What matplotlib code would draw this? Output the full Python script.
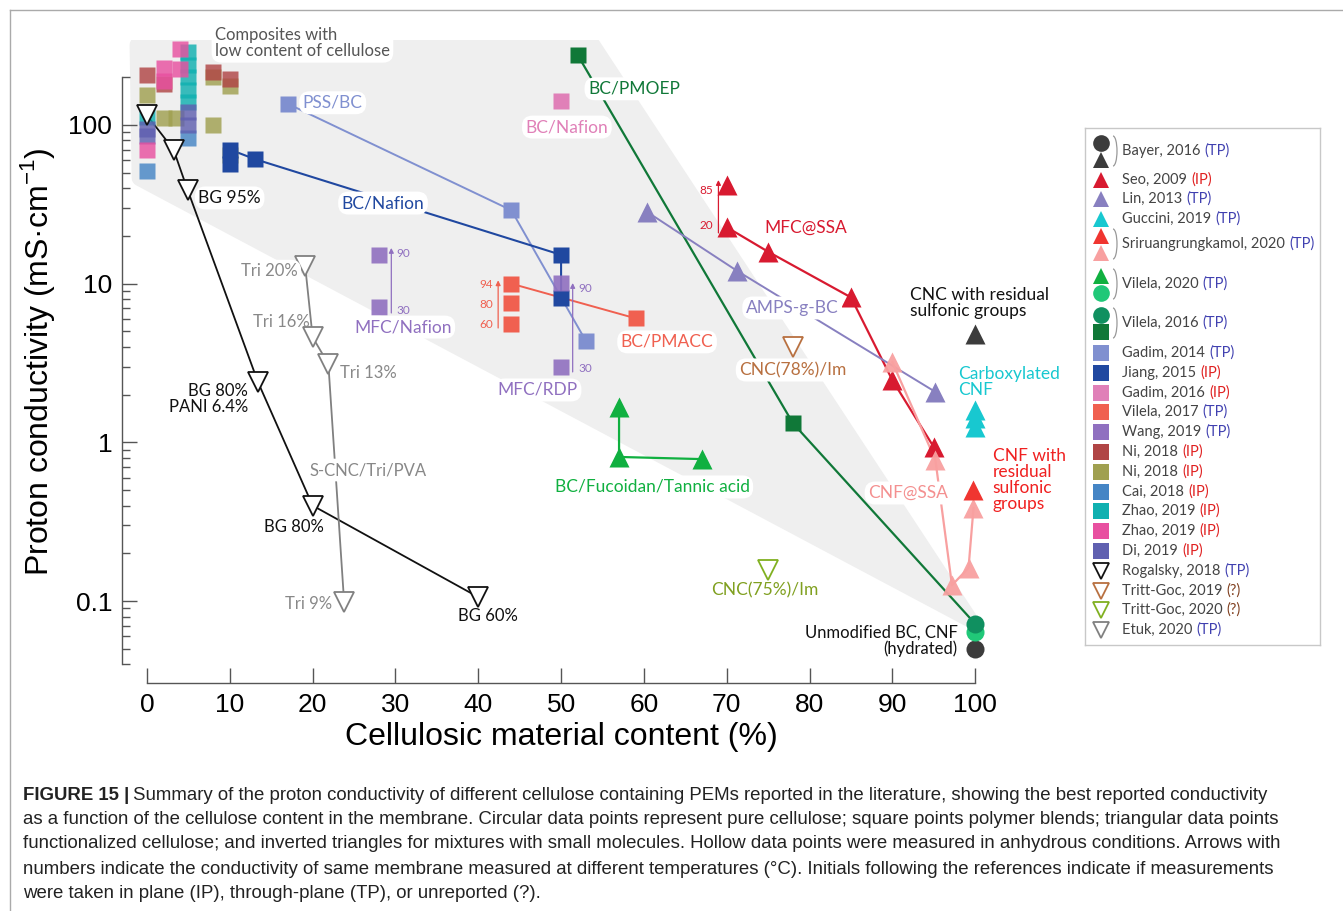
import numpy as np
import matplotlib.pyplot as plt
from matplotlib.patches import Polygon, Arc
from matplotlib.lines import Line2D

plt.rcParams['font.family'] = ['Lato', 'DejaVu Sans']
AXFONT = ['Liberation Sans Narrow', 'Liberation Sans', 'DejaVu Sans']

# ---------------- data: cellulose content (%) vs conductivity (mS/cm) ----------------
bayer_circ_x, bayer_circ_y = [100], [0.050]
bayer_tri_x, bayer_tri_y = [100], [4.8]

seo_x = [70, 70, 75, 85, 90, 95]
seo_y = [42, 22.7, 15.9, 8.2, 2.47, 0.935]

lin_x = [60.4, 71.3, 95.2]
lin_y = [28.3, 12.0, 2.08]

guccini_x = [100, 100, 100]
guccini_y = [1.60, 1.43, 1.25]

sriru_red_x, sriru_red_y = [99.8], [0.50]
sriru_pink_x = [90, 95.2, 97.2, 99.2, 99.8]
sriru_pink_y = [3.2, 0.775, 0.126, 0.162, 0.386]

vil20_tri_x = [57, 57, 67]
vil20_tri_y = [1.67, 0.81, 0.785]
vil20_circ_x, vil20_circ_y = [100], [0.064]

vil16_sq_x = [52, 78]
vil16_sq_y = [276, 1.32]
vil16_circ_x, vil16_circ_y = [100], [0.072]

gadim14_x = [17, 44, 53]
gadim14_y = [136, 29, 4.35]

jiang_x = [10, 10, 13, 50, 50]
jiang_y = [70, 57, 61, 15.2, 8.1]

gadim16_x, gadim16_y = [50], [142]

vil17_x = [44, 44, 44, 59]
vil17_y = [10.0, 7.6, 5.55, 6.05]

wang_x = [28, 28, 50, 50]
wang_y = [15.2, 7.1, 10.1, 3.0]

ni_red_x = [0, 2, 8, 10]
ni_red_y = [205, 180, 215, 195]
ni_olive_x = [0, 2, 3.5, 8, 8, 10, 10]
ni_olive_y = [155, 110, 110, 200, 100, 175, 65]
cai_x = [0, 5]
cai_y = [51, 83]
zhao_teal_x = [0, 5, 5, 5, 5, 5]
zhao_teal_y = [113, 290, 240, 200, 165, 140]
zhao_pink_x = [0, 2, 2, 4, 4]
zhao_pink_y = [70, 230, 190, 300, 225]
di_x = [0, 0, 5, 5]
di_y = [95, 85, 120, 100]

rogalsky_x = [0, 3.2, 4.9, 13.4, 20, 40]
rogalsky_y = [115, 70, 39, 2.4, 0.40, 0.106]
etuk_x = [19.1, 20.0, 21.9, 23.8]
etuk_y = [12.9, 4.6, 3.12, 0.099]
tritt19_x, tritt19_y = [78], [4.0]
tritt20_x, tritt20_y = [75], [0.157]

# shaded "low cellulose composites" zone
zone_x = [-1.1, 53.5, 99.2, -0.85]
zone_y = [319, 333, 0.078, 46.4]

C = dict(bayer='#3c3c3c', seo='#d81a30', lin='#8880c0', guccini='#18c8d0',
         sriru_red='#f03530', sriru_pink='#f8a0a0', vil20_tri='#10b040',
         vil20_circ='#20c878', vil16_circ='#109060', vil16_sq='#107838',
         gadim14='#8090d0', jiang='#2048a0', gadim16='#e080b8', vil17='#f06050',
         wang='#9070c0', ni_red='#b04545', ni_olive='#a0a050', cai='#4585c5',
         zhao_teal='#10b0b0', zhao_pink='#e850a0', di='#6060b0',
         rogalsky='#111111', tritt19='#b87040', tritt20='#80b020', etuk='#808080')

fig = plt.figure(figsize=(13.43, 9.11), dpi=100)
W, H = 1343, 911
ax = fig.add_axes([122 / W, (H - 683) / H, (1000 - 122) / W, (683 - 40) / H])
ax.set_yscale('log')
ax.set_xlim(-3.02, 103)
ax.set_ylim(0.0305, 343)

ax.add_patch(Polygon(list(zip(zone_x, zone_y)), closed=True, fc='#efefef',
                     ec='#efefef', lw=12, joinstyle='round', zorder=0))


def link(x, y, color, lw=1.4):
    ax.plot(x, y, color=color, lw=lw, zorder=3, solid_joinstyle='round')


def pts(x, y, marker, color, ms=12, hollow=False, alpha=1.0, z=4):
    if hollow:
        ax.plot(x, y, ls='none', marker=marker, ms=ms, mfc='white', mec=color,
                mew=1.3, zorder=z)
    else:
        ax.plot(x, y, ls='none', marker=marker, ms=ms, mfc=color, mec='none',
                alpha=alpha, zorder=z)


# connecting lines
link(rogalsky_x, rogalsky_y, C['rogalsky'], 1.3)
link(etuk_x, etuk_y, C['etuk'], 1.3)
link(vil16_sq_x + vil16_circ_x, vil16_sq_y + vil16_circ_y, C['vil16_sq'], 1.6)
link(vil20_tri_x, vil20_tri_y, C['vil20_tri'], 1.6)
link(gadim14_x, gadim14_y, C['gadim14'], 1.4)
link([jiang_x[0]] + jiang_x[2:], [jiang_y[0]] + jiang_y[2:], C['jiang'], 1.5)
link([vil17_x[0], vil17_x[3]], [vil17_y[0], vil17_y[3]], C['vil17'], 1.4)
link(seo_x[1:], seo_y[1:], C['seo'], 1.6)
link(lin_x, lin_y, C['lin'], 1.4)
link(sriru_pink_x, sriru_pink_y, C['sriru_pink'], 1.6)

# low-cellulose blend cluster (semi-transparent squares)
for key, xs, ys in [('ni_olive', ni_olive_x, ni_olive_y), ('ni_red', ni_red_x, ni_red_y),
                    ('zhao_teal', zhao_teal_x, zhao_teal_y), ('cai', cai_x, cai_y),
                    ('di', di_x, di_y), ('zhao_pink', zhao_pink_x, zhao_pink_y)]:
    pts(xs, ys, 's', C[key], ms=12, alpha=0.82)

pts(jiang_x, jiang_y, 's', C['jiang'], ms=12)
pts(gadim14_x, gadim14_y, 's', C['gadim14'], ms=12)
pts(gadim16_x, gadim16_y, 's', C['gadim16'], ms=12)
pts(vil17_x, vil17_y, 's', C['vil17'], ms=12)
pts(wang_x, wang_y, 's', C['wang'], ms=12, alpha=0.9)
pts(vil16_sq_x, vil16_sq_y, 's', C['vil16_sq'], ms=12)

pts(seo_x, seo_y, '^', C['seo'], ms=15)
pts(lin_x, lin_y, '^', C['lin'], ms=15)
pts(guccini_x, guccini_y, '^', C['guccini'], ms=14)
pts(sriru_pink_x, sriru_pink_y, '^', C['sriru_pink'], ms=15, alpha=0.95)
pts(sriru_red_x, sriru_red_y, '^', C['sriru_red'], ms=15)
pts(vil20_tri_x, vil20_tri_y, '^', C['vil20_tri'], ms=15)
pts(bayer_tri_x, bayer_tri_y, '^', C['bayer'], ms=15)

pts(bayer_circ_x, bayer_circ_y, 'o', C['bayer'], ms=13)
pts(vil20_circ_x, vil20_circ_y, 'o', C['vil20_circ'], ms=13)
pts(vil16_circ_x, vil16_circ_y, 'o', C['vil16_circ'], ms=13)

pts(rogalsky_x, rogalsky_y, 'v', C['rogalsky'], ms=15, hollow=True)
pts(etuk_x, etuk_y, 'v', C['etuk'], ms=15, hollow=True)
pts(tritt19_x, tritt19_y, 'v', C['tritt19'], ms=15, hollow=True)
pts(tritt20_x, tritt20_y, 'v', C['tritt20'], ms=15, hollow=True)

# temperature arrows
def temp_arrow(x, y0, y1, color):
    ax.annotate('', xy=(x, y1), xytext=(x, y0), zorder=5,
                arrowprops=dict(arrowstyle='-|>', color=color, lw=0.9,
                                mutation_scale=7, shrinkA=0, shrinkB=0))


temp_arrow(69.0, 20.9, 45, C['seo'])
temp_arrow(42.4, 5.26, 10.5, C['vil17'])
temp_arrow(29.5, 6.54, 16.8, C['wang'])
temp_arrow(51.4, 2.78, 10.1, C['wang'])

small = dict(fontsize=8.5, va='center', zorder=6)
ax.text(68.3, 38.9, '85', color=C['seo'], ha='right', **small)
ax.text(68.3, 23.1, '20', color=C['seo'], ha='right', **small)
ax.text(41.8, 9.9, '94', color=C['vil17'], ha='right', **small)
ax.text(41.8, 7.35, '80', color=C['vil17'], ha='right', **small)
ax.text(41.8, 5.5, '60', color=C['vil17'], ha='right', **small)
ax.text(30.1, 15.4, '90', color=C['wang'], ha='left', **small)
ax.text(30.1, 6.8, '30', color=C['wang'], ha='left', **small)
ax.text(52.1, 9.27, '90', color=C['wang'], ha='left', **small)
ax.text(52.1, 2.94, '30', color=C['wang'], ha='left', **small)

# series labels
box = dict(boxstyle='round,pad=0.2,rounding_size=0.6', fc='white', ec='none')


def label(x, y, s, color, ha='center', size=12.5, boxed=False, ls=1.0):
    ax.text(x, y, s, color=color, ha=ha, va='center', fontsize=size, zorder=7,
            linespacing=ls, bbox=box if boxed else None)


label(8.2, 327, 'Composites with\nlow content of cellulose', '#555555', ha='left', size=12, boxed=True)
label(18.8, 138, 'PSS/BC', C['gadim14'], ha='left', boxed=True)
label(50.7, 97, 'BC/Nafion', C['gadim16'], boxed=True)
label(58.8, 169, 'BC/PMOEP', C['vil16_sq'], boxed=True)
label(28.5, 32.2, 'BC/Nafion', C['jiang'], boxed=True)
label(6.2, 34.7, 'BG 95%', '#111111', ha='left', boxed=True)
label(18.2, 12.0, 'Tri 20%', '#888888', ha='right', size=12, boxed=True)
label(19.7, 5.74, 'Tri 16%', '#888888', ha='right', size=12)
label(23.3, 2.74, 'Tri 13%', '#888888', ha='left', size=12)
label(12.2, 1.87, 'BG 80%\nPANI 6.4%', '#111111', ha='right', size=12)
label(26.7, 0.67, 'S-CNC/Tri/PVA', '#888888', size=12, boxed=True)
label(17.75, 0.293, 'BG 80%', '#111111', size=12)
label(22.3, 0.096, 'Tri 9%', '#888888', ha='right', size=12)
label(41.2, 0.0805, 'BG 60%', '#111111', size=12)
label(30.9, 5.33, 'MFC/Nafion', C['wang'], boxed=True)
label(47.2, 2.14, 'MFC/RDP', C['wang'], boxed=True)
label(62.8, 4.30, 'BC/PMACC', C['vil17'], boxed=True)
label(61.0, 0.524, 'BC/Fucoidan/Tannic acid', C['vil20_tri'], boxed=True)
label(79.5, 22.4, 'MFC@SSA', C['seo'], boxed=True)
label(77.9, 7.03, 'AMPS-g-BC', C['lin'], boxed=True)
label(92.1, 7.55, 'CNC with residual\nsulfonic groups', '#111111', ha='left', size=12.5)
label(78.0, 2.86, 'CNC(78%)/Im', C['tritt19'], boxed=True)
label(97.9, 2.40, 'Carboxylated\nCNF', C['guccini'], ha='left', size=12.5)
label(102.1, 0.58, 'CNF with\nresidual\nsulfonic\ngroups', '#f02020', ha='left', size=12.5)
label(91.9, 0.48, 'CNF@SSA', '#f49090', boxed=True)
label(74.6, 0.1175, 'CNC(75%)/Im', '#80a020', size=12.5)
label(97.9, 0.056, 'Unmodified BC, CNF\n(hydrated)', '#111111', ha='right', size=12)

# axes styling
for side in ('top', 'right'):
    ax.spines[side].set_visible(False)
ax.spines['left'].set_bounds(0.04, 200)
ax.spines['bottom'].set_bounds(0, 100)
for side in ('left', 'bottom'):
    ax.spines[side].set_color('#555555')
    ax.spines[side].set_linewidth(1.0)
ax.set_facecolor('none')

ax.set_xticks(np.arange(0, 101, 10))
ax.set_yticks([0.1, 1, 10, 100])
ax.set_yticklabels(['0.1', '1', '10', '100'])
minor = [m * 10.0 ** e for e in range(-2, 3) for m in range(2, 10)]
ax.set_yticks([v for v in minor if 0.04 <= v <= 200], minor=True)
ax.tick_params(axis='both', which='major', direction='in', length=11, width=1,
               color='#555555', labelsize=19, pad=7)
ax.tick_params(axis='y', which='minor', direction='in', length=6, width=1, color='#555555')
ax.tick_params(axis='x', which='minor', bottom=False)
for t in ax.get_xticklabels() + ax.get_yticklabels():
    t.set_family(AXFONT)
ax.set_xlabel('Cellulosic material content (%)', fontsize=23, family=AXFONT, labelpad=4)
ax.set_ylabel('Proton conductivity (mS·cm$^{\\mathregular{-1}}$)', fontsize=23,
              family=AXFONT, labelpad=8)

# ---------------- legend panel ----------------
legend_names = ["Bayer, 2016", "Seo, 2009", "Lin, 2013", "Guccini, 2019",
                "Sriruangrungkamol, 2020", "Vilela, 2020", "Vilela, 2016",
                "Gadim, 2014", "Jiang, 2015", "Gadim, 2016", "Vilela, 2017",
                "Wang, 2019", "Ni, 2018", "Ni, 2018", "Cai, 2018", "Zhao, 2019",
                "Zhao, 2019", "Di, 2019", "Rogalsky, 2018", "Tritt-Goc, 2019",
                "Tritt-Goc, 2020", "Etuk, 2020"]
legend_tags = ["TP", "IP", "TP", "TP", "TP", "TP", "TP", "TP", "IP", "IP", "TP",
               "TP", "IP", "IP", "IP", "IP", "IP", "IP", "TP", "?", "?", "TP"]
legend_marks = [[('o', 'bayer'), ('^', 'bayer')], [('^', 'seo')], [('^', 'lin')],
                [('^', 'guccini')], [('^', 'sriru_red'), ('^', 'sriru_pink')],
                [('^', 'vil20_tri'), ('o', 'vil20_circ')],
                [('o', 'vil16_circ'), ('s', 'vil16_sq')],
                [('s', 'gadim14')], [('s', 'jiang')], [('s', 'gadim16')], [('s', 'vil17')],
                [('s', 'wang')], [('s', 'ni_red')], [('s', 'ni_olive')], [('s', 'cai')],
                [('s', 'zhao_teal')], [('s', 'zhao_pink')], [('s', 'di')],
                [('v', 'rogalsky')], [('v', 'tritt19')], [('v', 'tritt20')], [('v', 'etuk')]]
tag_colors = {'TP': '#4040b0', 'IP': '#e02020', '?': '#804020'}

lg = fig.add_axes([1085 / W, (H - 645) / H, 235 / W, 517 / H])
lg.set_xlim(1085, 1320)
lg.set_ylim(645, 128)
lg.set_xticks([])
lg.set_yticks([])
for s in lg.spines.values():
    s.set_color('#c8c8c8')
    s.set_linewidth(1.0)

row_y = [151, 180, 199, 219, 244, 284, 323, 353, 373, 393, 412, 432, 452, 472,
         492, 511, 531, 551, 571, 591, 610, 630]
for name, tag, marks, y in zip(legend_names, legend_tags, legend_marks, row_y):
    if len(marks) == 2:
        offs = [-8.5, 8.5]
        lg.add_patch(Arc((1113, y), 8, 30, theta1=-90, theta2=90, color='#999999', lw=0.9))
    else:
        offs = [0]
    for (m, key), dy in zip(marks, offs):
        hollow = m == 'v'
        lg.plot([1101], [y + dy], ls='none', marker=m, ms=12 if m != 's' else 11,
                mfc='white' if hollow else C[key], mec=C[key] if hollow else 'none',
                mew=1.3)
    t = lg.text(1122, y, name, color='#444444', fontsize=10.5, va='center', ha='left')
    lg.annotate('(' + tag + ')', xy=(1, 0.5), xycoords=t, xytext=(3, 0),
                textcoords='offset points', va='center', ha='left',
                color=tag_colors[tag], fontsize=10.5)

# ---------------- frame and caption ----------------
fig.add_artist(Line2D([10 / W, 10 / W], [0, 1 - 10 / H], color='#aaaaaa', lw=1.0))
fig.add_artist(Line2D([10 / W, 1], [1 - 10 / H, 1 - 10 / H], color='#aaaaaa', lw=1.0))

caption = [
    "Summary of the proton conductivity of different cellulose containing PEMs reported in the literature, showing the best reported conductivity",
    "as a function of the cellulose content in the membrane. Circular data points represent pure cellulose; square points polymer blends; triangular data points",
    "functionalized cellulose; and inverted triangles for mixtures with small molecules. Hollow data points were measured in anhydrous conditions. Arrows with",
    "numbers indicate the conductivity of same membrane measured at different temperatures (°C). Initials following the references indicate if measurements",
    "were taken in plane (IP), through-plane (TP), or unreported (?).",
]
cap_y = [795, 820, 844, 869, 893]
cap_size = 13.4
cap_kw = dict(fontsize=cap_size, family=AXFONT, color='#222222', va='center')
head = fig.text(23 / W, 1 - cap_y[0] / H, 'FIGURE 15 |', fontweight='bold', **cap_kw)
plt.annotate(caption[0], xy=(1, 0.5), xycoords=head, xytext=(3, 0),
             textcoords='offset points', ha='left', va='center',
             fontsize=cap_size, family=AXFONT, color='#222222')
for line, y in zip(caption[1:], cap_y[1:]):
    fig.text(23 / W, 1 - y / H, line, **cap_kw)

fig.savefig('out.png', dpi=100)
